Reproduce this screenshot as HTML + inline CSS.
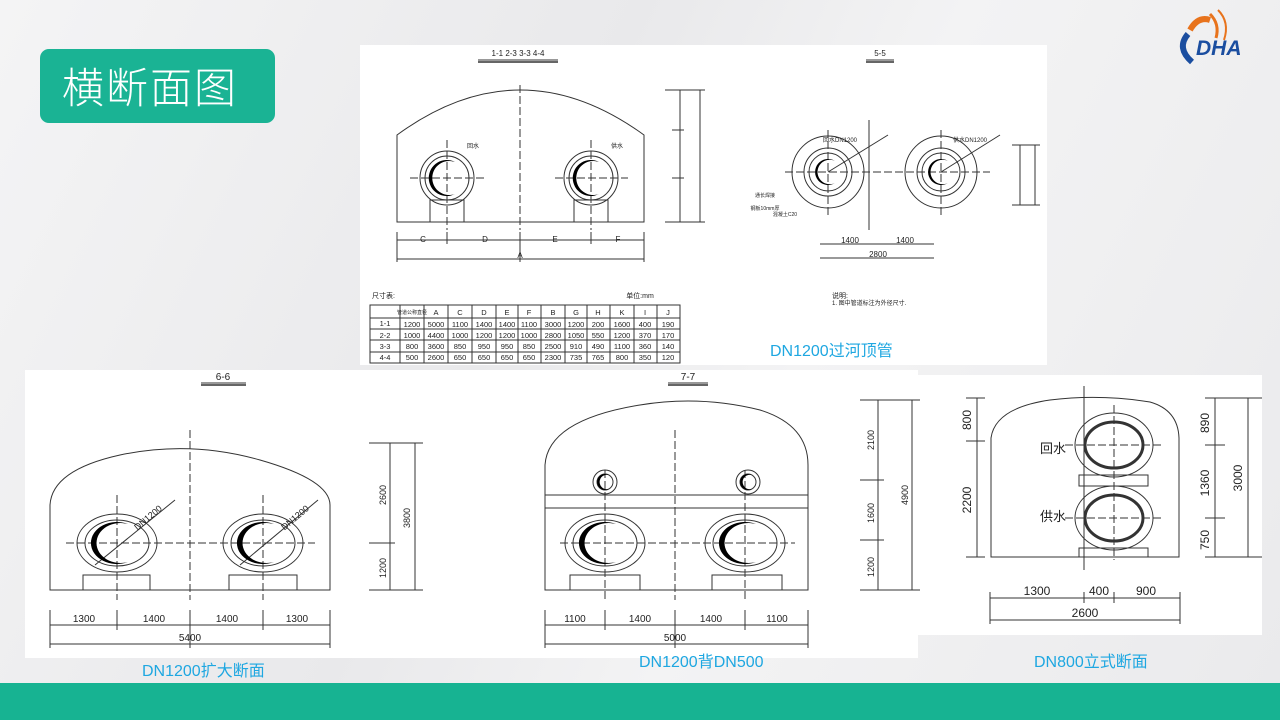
<!DOCTYPE html>
<html><head><meta charset="utf-8"><style>
body{margin:0;width:1280px;height:720px;overflow:hidden;background:#eeeeef;font-family:"Liberation Sans","Noto Sans CJK SC",sans-serif;position:relative}
.p{position:absolute;background:#fff}
svg{position:absolute;left:0;top:0}
.cap{position:absolute;color:#1ea7e1;font-size:16px;font-family:"Liberation Sans","Noto Sans CJK SC",sans-serif}
</style></head><body>
<div style="position:absolute;left:0;top:0;width:1280px;height:720px;background:linear-gradient(115deg,#f4f4f5 0%,#e9e9eb 40%,#f3f3f4 60%,#eaeaec 100%)"></div>
<div class="p" style="left:360px;top:45px;width:687px;height:320px"></div>
<div class="p" style="left:25px;top:370px;width:893px;height:288px"></div>
<div class="p" style="left:918px;top:375px;width:344px;height:260px"></div>
<div style="position:absolute;left:0;top:683px;width:1280px;height:37px;background:#17b392"></div>
<div style="position:absolute;left:40px;top:49px;width:235px;height:74px;background:#1ab394;border-radius:9px;color:#fff;font-size:42px;line-height:74px;text-indent:22px;font-family:'Noto Sans CJK SC',sans-serif;font-weight:300;letter-spacing:2px">横断面图</div>
<svg width="1280" height="720" viewBox="0 0 1280 720" font-family="Liberation Sans, Noto Sans CJK SC, sans-serif">
<path d="M1210,14 q10,10 6,24" stroke="#e8731c" stroke-width="3" fill="none"/>
<path d="M1218,10 q12,12 6,30" stroke="#e8731c" stroke-width="2" fill="none"/>
<path d="M1188,34 q-12,14 4,28" stroke="#1b4ea0" stroke-width="6" fill="none"/>
<path d="M1190,30 q8,-14 20,-10" stroke="#e8731c" stroke-width="6" fill="none"/>
<text x="1196" y="55" font-size="21" font-weight="bold" font-style="italic" fill="#1b4ea0">DHA</text>
<g stroke="#333" fill="none" stroke-width="1">
<line x1="478" y1="60" x2="558" y2="60"/><line x1="478" y1="62" x2="558" y2="62" stroke-width="1.5"/>
<line x1="866" y1="60" x2="894" y2="60"/><line x1="866" y1="62" x2="894" y2="62" stroke-width="1.5"/>
<path d="M397,222 L397,135 Q520,45 644,135 L644,222 Z"/>
<line x1="520" y1="85" x2="520" y2="230" stroke-dasharray="8,3"/>
<circle cx="447" cy="178" r="27"/><circle cx="447" cy="178" r="22"/>
<circle cx="591" cy="178" r="27"/><circle cx="591" cy="178" r="22"/>
<line x1="410" y1="178" x2="485" y2="178" stroke-dasharray="8,3"/><line x1="555" y1="178" x2="628" y2="178" stroke-dasharray="8,3"/>
<line x1="447" y1="140" x2="447" y2="230" stroke-dasharray="8,3"/><line x1="591" y1="140" x2="591" y2="230" stroke-dasharray="8,3"/>
<rect x="430" y="200" width="34" height="22"/><rect x="574" y="200" width="34" height="22"/>
<line x1="397" y1="240" x2="644" y2="240"/><line x1="397" y1="259" x2="644" y2="259"/>
<line x1="397" y1="232" x2="397" y2="262"/><line x1="447" y1="232" x2="447" y2="244"/><line x1="520" y1="232" x2="520" y2="262"/><line x1="591" y1="232" x2="591" y2="244"/><line x1="644" y1="232" x2="644" y2="262"/>
<line x1="665" y1="90" x2="705" y2="90"/><line x1="665" y1="222" x2="705" y2="222"/><line x1="680" y1="90" x2="680" y2="222"/><line x1="700" y1="90" x2="700" y2="222"/>
<line x1="672" y1="130" x2="684" y2="130"/><line x1="672" y1="178" x2="684" y2="178"/>
<circle cx="828" cy="172" r="36"/><circle cx="828" cy="172" r="24"/><circle cx="828" cy="172" r="19"/>
<circle cx="941" cy="172" r="36"/><circle cx="941" cy="172" r="24"/><circle cx="941" cy="172" r="19"/>
<line x1="785" y1="172" x2="990" y2="172" stroke-dasharray="8,3"/>
<line x1="828" y1="130" x2="828" y2="215" stroke-dasharray="8,3"/><line x1="941" y1="130" x2="941" y2="215" stroke-dasharray="8,3"/>
<line x1="869" y1="120" x2="869" y2="230"/>
<line x1="828" y1="172" x2="888" y2="135"/><line x1="941" y1="172" x2="1000" y2="135"/>
<line x1="820" y1="244" x2="934" y2="244"/><line x1="820" y1="258" x2="934" y2="258"/>
<line x1="1012" y1="145" x2="1040" y2="145"/><line x1="1012" y1="205" x2="1040" y2="205"/><line x1="1020" y1="145" x2="1020" y2="205"/><line x1="1035" y1="145" x2="1035" y2="205"/>
<rect x="370" y="305" width="310" height="58"/>
<line x1="370" y1="318" x2="680" y2="318"/><line x1="370" y1="329" x2="680" y2="329"/><line x1="370" y1="340" x2="680" y2="340"/><line x1="370" y1="352" x2="680" y2="352"/>
<line x1="400" y1="305" x2="400" y2="363"/><line x1="424" y1="305" x2="424" y2="363"/><line x1="448" y1="305" x2="448" y2="363"/><line x1="472" y1="305" x2="472" y2="363"/><line x1="496" y1="305" x2="496" y2="363"/><line x1="518" y1="305" x2="518" y2="363"/><line x1="541" y1="305" x2="541" y2="363"/><line x1="565" y1="305" x2="565" y2="363"/><line x1="587" y1="305" x2="587" y2="363"/><line x1="610" y1="305" x2="610" y2="363"/><line x1="634" y1="305" x2="634" y2="363"/><line x1="657" y1="305" x2="657" y2="363"/>
<line x1="201" y1="383" x2="246" y2="383"/><line x1="201" y1="385" x2="246" y2="385" stroke-width="1.5"/>
<path d="M50,590 L50,505 Q52,470 120,455 Q190,440 260,460 Q330,480 330,505 L330,590 Z"/>
<line x1="190" y1="430" x2="190" y2="600" stroke-dasharray="8,3"/>
<ellipse cx="117" cy="543" rx="40" ry="29"/><ellipse cx="117" cy="543" rx="32" ry="23"/>
<ellipse cx="263" cy="543" rx="40" ry="29"/><ellipse cx="263" cy="543" rx="32" ry="23"/>
<line x1="66" y1="543" x2="315" y2="543" stroke-dasharray="8,3"/>
<line x1="117" y1="495" x2="117" y2="600" stroke-dasharray="8,3"/><line x1="263" y1="495" x2="263" y2="600" stroke-dasharray="8,3"/>
<line x1="95" y1="565" x2="175" y2="500"/><line x1="240" y1="565" x2="318" y2="500"/>
<rect x="83" y="575" width="67" height="15"/><rect x="229" y="575" width="68" height="15"/>
<line x1="50" y1="625" x2="330" y2="625"/><line x1="50" y1="644" x2="330" y2="644"/>
<line x1="50" y1="610" x2="50" y2="648"/><line x1="117" y1="610" x2="117" y2="630"/><line x1="190" y1="610" x2="190" y2="648"/><line x1="263" y1="610" x2="263" y2="630"/><line x1="330" y1="610" x2="330" y2="648"/>
<line x1="369" y1="443" x2="423" y2="443"/><line x1="369" y1="590" x2="423" y2="590"/><line x1="390" y1="443" x2="390" y2="590"/><line x1="415" y1="443" x2="415" y2="590"/><line x1="369" y1="543" x2="395" y2="543"/>
<line x1="668" y1="383" x2="708" y2="383"/><line x1="668" y1="385" x2="708" y2="385" stroke-width="1.5"/>
<path d="M545,590 L545,465 Q548,420 640,405 Q700,395 760,410 Q808,425 808,465 L808,590 Z"/>
<line x1="545" y1="495" x2="808" y2="495"/><line x1="545" y1="508" x2="808" y2="508"/>
<line x1="675" y1="430" x2="675" y2="600" stroke-dasharray="8,3"/>
<circle cx="605" cy="482" r="12"/><circle cx="605" cy="482" r="8"/><circle cx="748" cy="482" r="12"/><circle cx="748" cy="482" r="8"/>
<ellipse cx="605" cy="543" rx="40" ry="29"/><ellipse cx="605" cy="543" rx="32" ry="23"/>
<ellipse cx="745" cy="543" rx="40" ry="29"/><ellipse cx="745" cy="543" rx="32" ry="23"/>
<line x1="560" y1="543" x2="795" y2="543" stroke-dasharray="8,3"/>
<line x1="605" y1="470" x2="605" y2="600" stroke-dasharray="8,3"/><line x1="745" y1="470" x2="745" y2="600" stroke-dasharray="8,3"/>
<rect x="570" y="575" width="70" height="15"/><rect x="712" y="575" width="70" height="15"/>
<line x1="545" y1="625" x2="808" y2="625"/><line x1="545" y1="644" x2="808" y2="644"/>
<line x1="545" y1="610" x2="545" y2="648"/><line x1="605" y1="610" x2="605" y2="630"/><line x1="675" y1="610" x2="675" y2="648"/><line x1="745" y1="610" x2="745" y2="630"/><line x1="808" y1="610" x2="808" y2="648"/>
<line x1="860" y1="400" x2="920" y2="400"/><line x1="860" y1="590" x2="920" y2="590"/><line x1="878" y1="400" x2="878" y2="590"/><line x1="912" y1="400" x2="912" y2="590"/><line x1="860" y1="480" x2="884" y2="480"/><line x1="860" y1="540" x2="884" y2="540"/>
<path d="M991,557 L991,438 Q995,408 1050,400 Q1100,394 1150,402 Q1178,410 1179,438 L1179,557 Z"/>
<line x1="1084" y1="386" x2="1084" y2="570"/>
<line x1="1114" y1="405" x2="1114" y2="560" stroke-dasharray="8,3"/>
<ellipse cx="1114" cy="445" rx="39" ry="32"/><ellipse cx="1114" cy="518" rx="39" ry="32"/>
<ellipse cx="1114" cy="445" rx="29" ry="23" stroke-width="3"/><ellipse cx="1114" cy="518" rx="29" ry="23" stroke-width="3"/>
<line x1="1065" y1="445" x2="1163" y2="445" stroke-dasharray="8,3"/><line x1="1065" y1="518" x2="1163" y2="518" stroke-dasharray="8,3"/>
<rect x="1079" y="475" width="69" height="11"/><rect x="1079" y="548" width="69" height="9"/>
<line x1="966" y1="398" x2="985" y2="398"/><line x1="966" y1="441" x2="985" y2="441"/><line x1="966" y1="557" x2="985" y2="557"/><line x1="977" y1="398" x2="977" y2="557"/>
<line x1="1205" y1="398" x2="1262" y2="398"/><line x1="1205" y1="557" x2="1262" y2="557"/><line x1="1215" y1="398" x2="1215" y2="557"/><line x1="1248" y1="398" x2="1248" y2="557"/><line x1="1205" y1="445" x2="1225" y2="445"/><line x1="1205" y1="518" x2="1225" y2="518"/>
<line x1="990" y1="598" x2="1180" y2="598"/><line x1="990" y1="620" x2="1180" y2="620"/>
<line x1="990" y1="592" x2="990" y2="624"/><line x1="1084" y1="592" x2="1084" y2="603"/><line x1="1114" y1="592" x2="1114" y2="603"/><line x1="1180" y1="592" x2="1180" y2="624"/>
</g>
<g fill="#000">
<path d="M455,162 A18,18 0 1,0 455,194 A17,17 0 1,1 455,162Z"/>
<path d="M599,162 A18,18 0 1,0 599,194 A17,17 0 1,1 599,162Z"/>
<path d="M835,161 A13,13 0 1,0 835,183 A12.2,12.2 0 1,1 835,161Z"/>
<path d="M948,161 A13,13 0 1,0 948,183 A12.2,12.2 0 1,1 948,161Z"/>
<path d="M128,524 A26,21 0 1,0 128,562 A24,20 0 1,1 128,524Z"/>
<path d="M274,524 A26,21 0 1,0 274,562 A24,20 0 1,1 274,524Z"/>
<path d="M616,524 A26,21 0 1,0 616,562 A24,20 0 1,1 616,524Z"/>
<path d="M756,524 A26,21 0 1,0 756,562 A24,20 0 1,1 756,524Z"/>
<path d="M609,475 A8,8 0 1,0 609,489 A7.3,7.3 0 1,1 609,475Z"/>
<path d="M752,475 A8,8 0 1,0 752,489 A7.3,7.3 0 1,1 752,475Z"/>
</g>
<g fill="#222" font-size="8" text-anchor="middle">
<text x="518" y="56">1-1  2-3  3-3  4-4</text><text x="880" y="56">5-5</text>
<text x="423" y="242">C</text><text x="485" y="242">D</text><text x="555" y="242">E</text><text x="618" y="242">F</text><text x="520" y="258">A</text>
<text x="473" y="148" font-size="6">回水</text><text x="617" y="148" font-size="6">供水</text>
<text x="850" y="243">1400</text><text x="905" y="243">1400</text><text x="878" y="257">2800</text>
<text x="840" y="142" font-size="6">回水DN1200</text><text x="970" y="142" font-size="6">供水DN1200</text>
<text x="765" y="197" font-size="5">通长焊接</text><text x="765" y="210" font-size="5">钢板10mm厚</text><text x="785" y="216" font-size="5">混凝土C20</text>
<text x="372" y="298" text-anchor="start" font-size="7">尺寸表:</text><text x="640" y="298" font-size="7">单位:mm</text>
<text x="832" y="298" text-anchor="start" font-size="7">说明:</text><text x="832" y="305" text-anchor="start" font-size="6">1. 图中管道标注为外径尺寸.</text>
</g>
<g fill="#222" font-size="7.5" text-anchor="middle">
<text x="412" y="314" font-size="5">管道公称直径</text><text x="436" y="315">A</text><text x="460" y="315">C</text><text x="484" y="315">D</text><text x="507" y="315">E</text><text x="529" y="315">F</text><text x="553" y="315">B</text><text x="576" y="315">G</text><text x="598" y="315">H</text><text x="622" y="315">K</text><text x="645" y="315">I</text><text x="668" y="315">J</text>
<text x="385" y="326">1-1</text><text x="412" y="327">1200</text><text x="436" y="327">5000</text><text x="460" y="327">1100</text><text x="484" y="327">1400</text><text x="507" y="327">1400</text><text x="529" y="327">1100</text><text x="553" y="327">3000</text><text x="576" y="327">1200</text><text x="598" y="327">200</text><text x="622" y="327">1600</text><text x="645" y="327">400</text><text x="668" y="327">190</text>
<text x="385" y="338">2-2</text><text x="412" y="338">1000</text><text x="436" y="338">4400</text><text x="460" y="338">1000</text><text x="484" y="338">1200</text><text x="507" y="338">1200</text><text x="529" y="338">1000</text><text x="553" y="338">2800</text><text x="576" y="338">1050</text><text x="598" y="338">550</text><text x="622" y="338">1200</text><text x="645" y="338">370</text><text x="668" y="338">170</text>
<text x="385" y="349">3-3</text><text x="412" y="349">800</text><text x="436" y="349">3600</text><text x="460" y="349">850</text><text x="484" y="349">950</text><text x="507" y="349">950</text><text x="529" y="349">850</text><text x="553" y="349">2500</text><text x="576" y="349">910</text><text x="598" y="349">490</text><text x="622" y="349">1100</text><text x="645" y="349">360</text><text x="668" y="349">140</text>
<text x="385" y="360">4-4</text><text x="412" y="360">500</text><text x="436" y="360">2600</text><text x="460" y="360">650</text><text x="484" y="360">650</text><text x="507" y="360">650</text><text x="529" y="360">650</text><text x="553" y="360">2300</text><text x="576" y="360">735</text><text x="598" y="360">765</text><text x="622" y="360">800</text><text x="645" y="360">350</text><text x="668" y="360">120</text>
</g>
<g fill="#222" font-size="10" text-anchor="middle">
<text x="223" y="380">6-6</text><text x="688" y="380">7-7</text>
<text x="84" y="622">1300</text><text x="154" y="622">1400</text><text x="227" y="622">1400</text><text x="297" y="622">1300</text><text x="190" y="641">5400</text>
<text x="575" y="622">1100</text><text x="640" y="622">1400</text><text x="711" y="622">1400</text><text x="777" y="622">1100</text><text x="675" y="641">5000</text>
<text transform="translate(386,495) rotate(-90)" font-size="9">2600</text><text transform="translate(386,568) rotate(-90)" font-size="9">1200</text><text transform="translate(410,518) rotate(-90)" font-size="9">3800</text>
<text transform="translate(874,440) rotate(-90)" font-size="9">2100</text><text transform="translate(874,513) rotate(-90)" font-size="9">1600</text><text transform="translate(874,567) rotate(-90)" font-size="9">1200</text><text transform="translate(908,495) rotate(-90)" font-size="9">4900</text>
<text transform="translate(150,520) rotate(-40)" font-size="9">DN1200</text><text transform="translate(297,520) rotate(-40)" font-size="9">DN1200</text>
<text x="1053" y="453" font-size="13">回水</text><text x="1053" y="521" font-size="13">供水</text>
<text transform="translate(971,420) rotate(-90)" font-size="12">800</text><text transform="translate(971,500) rotate(-90)" font-size="12">2200</text><text transform="translate(1209,423) rotate(-90)" font-size="12">890</text><text transform="translate(1209,483) rotate(-90)" font-size="12">1360</text><text transform="translate(1209,540) rotate(-90)" font-size="12">750</text><text transform="translate(1242,478) rotate(-90)" font-size="12">3000</text>
<text x="1037" y="595" font-size="12">1300</text><text x="1099" y="595" font-size="12">400</text><text x="1146" y="595" font-size="12">900</text><text x="1085" y="617" font-size="12">2600</text>
</g>
</svg>
<div class="cap" style="left:770px;top:337px">DN1200过河顶管</div>
<div class="cap" style="left:142px;top:657px">DN1200扩大断面</div>
<div class="cap" style="left:639px;top:648px">DN1200背DN500</div>
<div class="cap" style="left:1034px;top:648px">DN800立式断面</div>
</body></html>
